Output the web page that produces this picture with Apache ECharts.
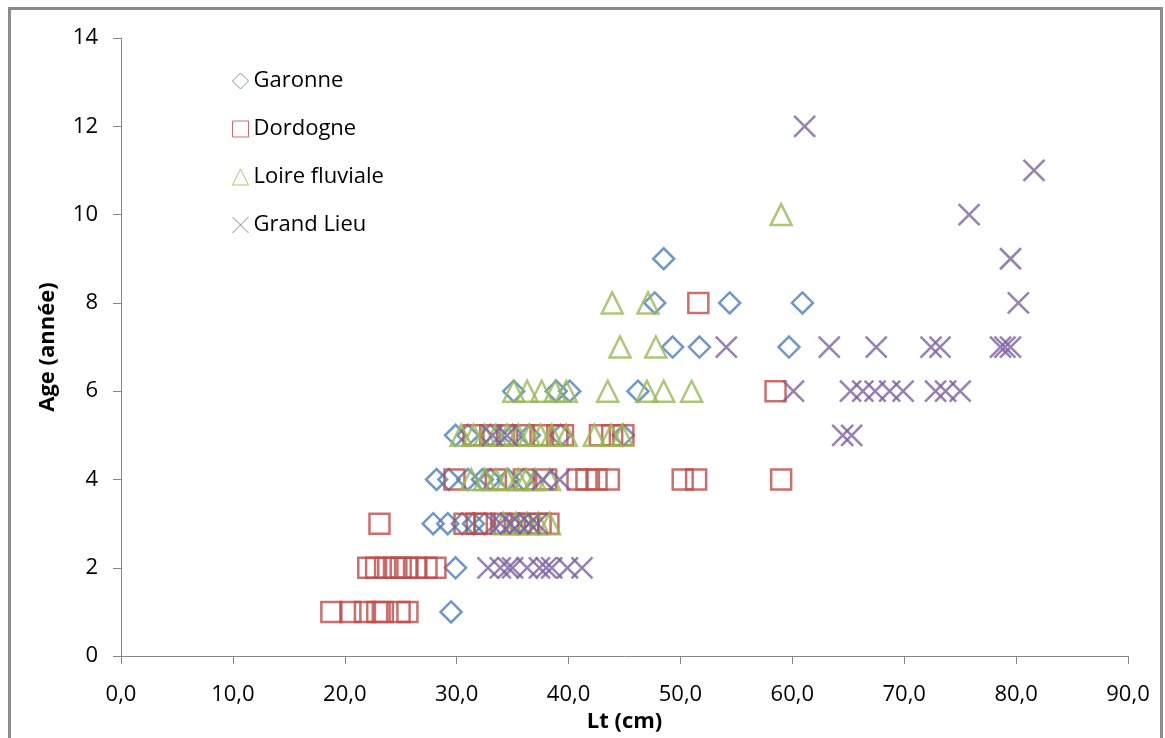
<!DOCTYPE html>
<html>
<head>
<meta charset="utf-8">
<script src="https://cdn.jsdelivr.net/npm/echarts@6/dist/echarts.min.js"></script>
<style>
html,body{margin:0;padding:0;background:#fff;}
#c{width:1165px;height:738px;}
</style>
</head>
<body>
<div id="c"></div>
<script>
// ---- Data (Lt in cm, Age in years) ----
const seriesNames = ['Garonne', 'Dordogne', 'Loire fluviale', 'Grand Lieu'];
const xTicks = [0, 10, 20, 30, 40, 50, 60, 70, 80, 90];
const yTicks = [0, 2, 4, 6, 8, 10, 12, 14];

const garonne = [
  [29.5,1],
  [29.9,2],
  [27.9,3],[29.2,3],[30.5,3],[31.5,3],[32.5,3],[34.0,3],[35.5,3],
  [28.2,4],[29.3,4],[31.0,4],[32.3,4],[33.0,4],[34.6,4],[36.0,4],
  [29.9,5],[31.0,5],[33.0,5],[35.0,5],[36.5,5],[39.3,5],[44.9,5],
  [35.1,6],[38.9,6],[40.1,6],[46.2,6],
  [49.3,7],[51.7,7],[59.7,7],
  [47.7,8],[54.4,8],[60.9,8],
  [48.5,9]
];
const dordogne = [
  [18.8,1],[20.5,1],[21.8,1],[22.9,1],[23.4,1],[24.9,1],[25.6,1],
  [22.1,2],[22.8,2],[23.6,2],[24.4,2],[25.0,2],[25.6,2],[26.4,2],[27.3,2],[28.1,2],
  [23.1,3],[30.7,3],[31.8,3],[32.5,3],[34.0,3],[35.2,3],[36.4,3],[37.5,3],[38.2,3],
  [29.8,4],[33.5,4],[36.0,4],[38.0,4],[40.8,4],[41.6,4],[42.5,4],[43.6,4],[50.2,4],[51.4,4],[59.0,4],
  [31.5,5],[33.0,5],[34.5,5],[36.0,5],[37.5,5],[39.0,5],[39.5,5],[42.8,5],[43.9,5],[44.9,5],
  [58.5,6],
  [51.6,8]
];
const loire = [
  [34.2,3],[35.3,3],[36.3,3],[37.3,3],[38.3,3],
  [31.3,4],[32.5,4],[33.5,4],[34.5,4],[35.5,4],[36.2,4],[37.0,4],[38.3,4],
  [30.4,5],[31.5,5],[32.5,5],[33.5,5],[34.5,5],[35.5,5],[36.5,5],[37.5,5],[38.5,5],[39.8,5],[42.3,5],[43.8,5],[44.8,5],
  [35.1,6],[36.3,6],[37.6,6],[38.8,6],[39.8,6],[43.5,6],[47.0,6],[48.5,6],[51.0,6],
  [44.6,7],[47.8,7],
  [43.9,8],[47.1,8],
  [59.0,10]
];
const grandLieu = [
  [32.8,2],[33.9,2],[34.6,2],[35.0,2],[36.3,2],[37.4,2],[38.0,2],[38.5,2],[39.9,2],[41.2,2],
  [33.9,3],[34.8,3],[35.6,3],[36.5,3],[37.2,3],
  [37.7,4],[39.2,4],
  [33.2,5],[34.5,5],[64.5,5],[65.3,5],
  [60.1,6],[65.2,6],[66.3,6],[67.4,6],[68.7,6],[69.9,6],[72.8,6],[73.7,6],[75.0,6],
  [54.1,7],[63.3,7],[67.5,7],[72.4,7],[73.2,7],[78.6,7],[79.0,7],[79.5,7],
  [80.2,8],
  [79.5,9],
  [75.8,10],
  [81.6,11],
  [61.1,12]
];

const colors = ['#4A7EBB', '#BE4B48', '#98B954', '#7D60A0'];
const symbols = ['diamond', 'rect', 'triangle', 'path://M0,0L20,20M20,0L0,20'];
const datasets = [garonne, dordogne, loire, grandLieu];
const FONT = '"Open Sans", "Liberation Sans", sans-serif';

const chart = echarts.init(document.getElementById('c'), null, {renderer: 'canvas'});

chart.setOption({
  animation: false,
  backgroundColor: '#fff',
  graphic: [{
    type: 'rect',
    shape: {x: 9.5, y: 8.5, width: 1152, height: 800},
    style: {fill: 'none', stroke: '#8C8C8C', lineWidth: 3},
    silent: true, z: -1
  }],
  grid: {left: 121, right: 37, top: 38, bottom: 79, containLabel: false},
  legend: {
    orient: 'vertical',
    left: 227,
    top: 65,
    itemWidth: 16,
    itemHeight: 16,
    itemGap: 26,
    itemTextGap: 5,
    textStyle: {fontFamily: FONT, fontSize: 22, color: '#000'},
    itemStyle: {borderWidth: 1},
    data: seriesNames
  },
  xAxis: {
    type: 'value',
    min: 0, max: 90, interval: 10,
    name: 'Lt (cm)',
    nameLocation: 'middle',
    nameGap: 52,
    nameTextStyle: {fontFamily: FONT, fontSize: 22, fontWeight: 'bold', color: '#000'},
    axisLine: {show: true, onZero: false, lineStyle: {color: '#868686', width: 1}},
    axisTick: {show: true, length: 8, lineStyle: {color: '#868686'}},
    splitLine: {show: false},
    axisLabel: {
      fontFamily: FONT, fontSize: 22, color: '#000', margin: 28,
      formatter: v => xTicks.includes(v) ? v.toFixed(1).replace('.', ',') : ''
    }
  },
  yAxis: {
    type: 'value',
    min: 0, max: 14, interval: 2,
    name: 'Age (année)',
    nameLocation: 'middle',
    nameGap: 62,
    nameTextStyle: {fontFamily: FONT, fontSize: 22, fontWeight: 'bold', color: '#000'},
    axisLine: {show: true, onZero: false, lineStyle: {color: '#868686', width: 1}},
    axisTick: {show: true, length: 8, lineStyle: {color: '#868686'}},
    splitLine: {show: false},
    axisLabel: {
      fontFamily: FONT, fontSize: 22, color: '#000', margin: 23,
      formatter: v => yTicks.includes(v) ? String(v) : ''
    }
  },
  series: datasets.map((d, i) => ({
    name: seriesNames[i],
    type: 'scatter',
    data: d,
    symbol: symbols[i],
    symbolSize: i === 1 ? 20 : 21,
    itemStyle: {color: 'rgba(0,0,0,0)', borderColor: colors[i], borderWidth: 2.5},
    emphasis: {disabled: true}
  }))
});
</script>
</body>
</html>
